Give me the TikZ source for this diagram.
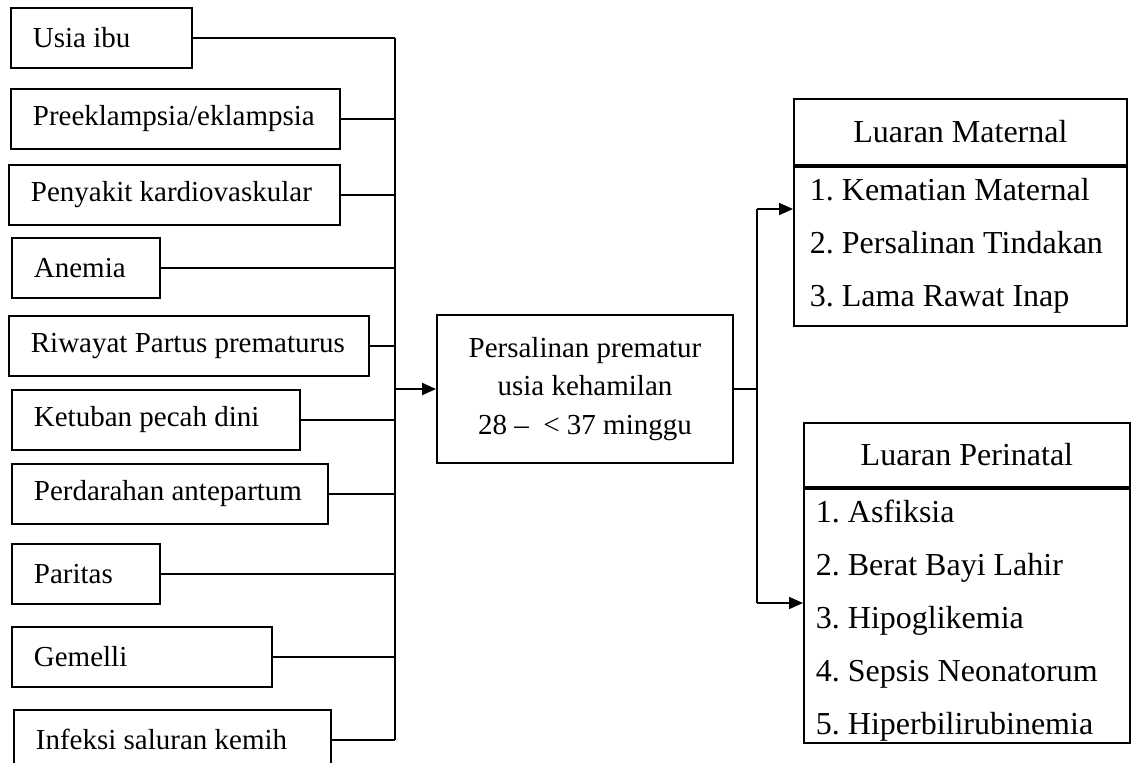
\documentclass[tikz,border=0pt]{standalone}
\usepackage{fontspec}
\setmainfont{Liberation Serif}
\usetikzlibrary{arrows.meta,positioning}
\frenchspacing

\tikzset{
  kotak/.style={draw, line width=0.9pt, font=\fontsize{14.5}{17.4}\selectfont},
  faktor/.style={kotak, anchor=north west, minimum height=30pt, inner xsep=10pt, align=flush left},
  judul/.style={kotak, anchor=north west, align=center, font=\fontsize{16}{19}\selectfont},
  daftar/.style={kotak, anchor=north west, align=flush left, inner ysep=0pt, font=\fontsize{16}{26.5}\selectfont},
  garis/.style={line width=0.9pt},
  panah/.style={garis, -{Triangle[length=7pt,width=6pt]}}
}

\begin{document}
\begin{tikzpicture}[x=0.5pt,y=-0.5pt]
  \clip (0,0) rectangle (1131,762);

  % faktor risiko
  \foreach \i/\x/\y/\w/\txt in {1/10/7/181/{Usia ibu}, 2/10/88/329/{Preeklampsia/eklampsia},
      3/8/164/331/{Penyakit kardiovaskular}, 4/11/237/148/{Anemia},
      5/8/315/360/{Riwayat Partus prematurus}, 6/11/389/288/{Ketuban pecah dini},
      7/11/463/316/{Perdarahan antepartum}, 8/11/543/148/{Paritas},
      9/11/626/260/{Gemelli}, 10/13/709/317/{Infeksi saluran kemih}} {
    \pgfmathsetmacro\tw{\w*0.5-20}
    \node[faktor, text width=\tw pt] (f\i) at (\x,\y) {\hspace*{1pt}\txt};
  }

  \node[kotak, minimum width=148pt, minimum height=74pt, align=center,
        font=\fontsize{14.5}{19.25}\selectfont] (pers) at (585,389)
        {Persalinan prematur\\ usia kehamilan\\ 28 –\enspace< 37 minggu};

  % luaran
  \node[judul, minimum width=166.5pt, minimum height=33pt] (mat) at (793,98) {Luaran Maternal};
  \node[daftar, text width=150.5pt, inner xsep=8pt, minimum height=79.5pt] (matlist) at (mat.south west)
        {1. Kematian Maternal\\ 2. Persalinan Tindakan\\ 3. Lama Rawat Inap};
  \node[judul, minimum width=163pt, minimum height=32pt] (peri) at (803,422) {Luaran Perinatal};
  \node[daftar, text width=151pt, inner xsep=6pt, minimum height=127pt] (perlist) at (peri.south west)
        {\rule{0pt}{16pt}1. Asfiksia\\ 2. Berat Bayi Lahir\\ 3. Hipoglikemia\\ 4. Sepsis Neonatorum\\ 5. Hiperbilirubinemia};

  \coordinate (bar) at (395,389);
  \coordinate (rtop) at (757,209);
  \coordinate (rbot) at (757,603);

  \foreach \i in {1,...,10}
    \draw[garis] (f\i.east) -- (f\i.east -| bar);
  \draw[garis] (f1.east -| bar) -- (f10.east -| bar);
  \draw[panah] (bar) -- (pers.west);

  \draw[garis] (pers.east) -- (pers.east -| rtop);
  \draw[garis] (rtop) -- (rbot);
  \draw[panah] (rtop) -- (rtop -| matlist.west);
  \draw[panah] (rbot) -- (rbot -| perlist.west);
\end{tikzpicture}
\end{document}
